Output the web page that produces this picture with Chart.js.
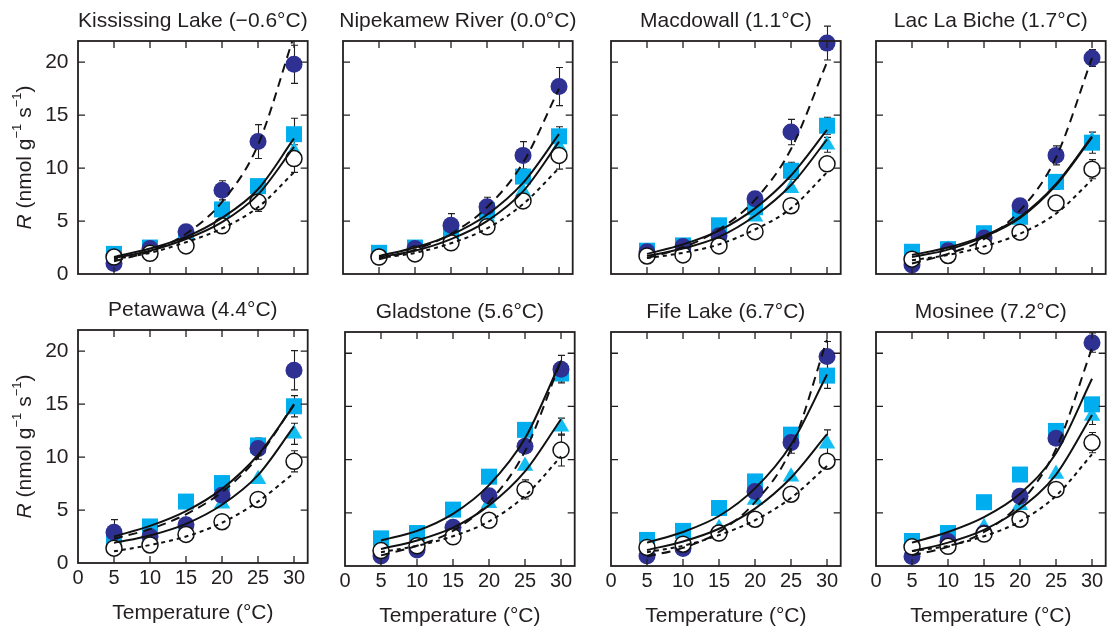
<!DOCTYPE html>
<html><head><meta charset="utf-8">
<script src="https://cdn.jsdelivr.net/npm/chart.js@4.4.0/dist/chart.umd.min.js"></script>
<style>
html,body{margin:0;padding:0;background:#fff;}
#wrap{position:relative;width:1110px;height:629px;overflow:hidden;background:#fff;}
#wrap canvas{position:absolute;}
</style></head><body><div id="wrap"></div>
<script>
// ---------- data ----------
const temps = [5, 10, 15, 20, 25, 30];
const xTicks = [0, 5, 10, 15, 20, 25, 30];
const yTicks = [0, 5, 10, 15, 20];
const siteTitles = [
  "Kississing Lake (\u22120.6\u00B0C)", "Nipekamew River (0.0\u00B0C)", "Macdowall (1.1\u00B0C)", "Lac La Biche (1.7\u00B0C)",
  "Petawawa (4.4\u00B0C)", "Gladstone (5.6\u00B0C)", "Fife Lake (6.7\u00B0C)", "Mosinee (7.2\u00B0C)"
];
const darkR = [
  [1.0, 2.4, 4.0, 7.9, 12.5, 19.8],
  [1.6, 2.4, 4.6, 6.35, 11.2, 17.7],
  [2.1, 2.6, 3.6, 7.1, 13.4, 21.8],
  [0.85, 2.2, 3.4, 6.45, 11.2, 20.4],
  [2.9, 2.5, 3.6, 6.4, 10.8, 18.2],
  [0.95, 1.5, 3.65, 6.6, 11.25, 18.5],
  [0.95, 1.65, 3.1, 7.0, 11.6, 19.7],
  [0.9, 2.3, 3.1, 6.55, 12.0, 21.0]
];
const squareR = [
  [1.9, 2.5, 3.4, 6.1, 8.3, 13.2],
  [2.0, 2.5, 3.8, 6.0, 9.2, 13.0],
  [2.2, 2.7, 4.6, 6.3, 9.75, 14.0],
  [2.1, 2.35, 3.85, 5.4, 8.7, 12.4],
  [2.35, 3.45, 5.8, 7.55, 11.1, 14.8],
  [2.6, 3.1, 5.3, 8.4, 12.8, 18.1],
  [2.45, 3.3, 5.45, 7.95, 12.35, 17.9],
  [2.35, 3.1, 6.0, 8.6, 12.7, 15.2]
];
const triR = [
  [1.7, 2.2, 3.3, 5.0, 7.3, 11.6],
  [1.8, 2.3, 3.4, 5.4, 7.8, 12.0],
  [2.0, 2.4, 3.6, 5.4, 8.1, 12.2],
  [1.9, 2.3, 3.5, 5.3, 8.6, 12.6],
  [2.1, 2.6, 3.6, 5.6, 7.9, 12.2],
  [1.8, 2.4, 3.6, 5.9, 9.4, 13.1],
  [2.0, 2.5, 3.55, 6.2, 8.4, 11.5],
  [2.0, 2.6, 3.65, 5.7, 8.65, 14.1]
];
const openR = [
  [1.6, 1.95, 2.65, 4.55, 6.8, 10.9],
  [1.6, 1.9, 2.95, 4.45, 6.9, 11.2],
  [1.7, 1.8, 2.65, 4.0, 6.45, 10.4],
  [1.4, 1.75, 2.65, 3.95, 6.7, 9.9],
  [1.4, 1.7, 2.7, 3.9, 6.0, 9.6],
  [1.45, 1.9, 2.75, 4.3, 7.2, 10.9],
  [1.75, 2.05, 3.1, 4.4, 6.75, 9.85],
  [1.8, 1.85, 3.0, 4.4, 7.2, 11.6]
];
// fitted curves
const darkFit = [
  [1.2, 2.15, 3.8, 6.8, 12.2, 22.5],
  [1.4, 2.3, 3.8, 6.3, 10.5, 17.5],
  [1.5, 2.5, 4.2, 7.0, 11.8, 20.0],
  [1.0, 1.9, 3.3, 6.0, 11.0, 20.4],
  [2.3, 3.2, 4.6, 6.7, 10.0, 15.0],
  [1.0, 1.9, 3.3, 6.0, 10.8, 19.3],
  [0.9, 1.7, 3.2, 6.0, 11.0, 21.3],
  [1.0, 1.8, 3.2, 5.9, 11.0, 20.5]
];
const squareFit = [
  [1.6, 2.4, 3.5, 5.3, 8.0, 12.8],
  [1.7, 2.5, 3.7, 5.6, 8.6, 13.2],
  [1.9, 2.8, 4.1, 6.2, 9.3, 13.6],
  [1.8, 2.5, 3.6, 5.4, 8.5, 13.0],
  [2.5, 3.5, 4.9, 7.0, 10.2, 14.9],
  [2.4, 3.3, 4.9, 7.6, 12.0, 19.3],
  [2.2, 3.2, 4.7, 7.3, 11.4, 18.0],
  [2.2, 3.2, 4.6, 6.8, 10.6, 17.6]
];
const triFit = [
  [1.5, 2.2, 3.3, 4.9, 7.5, 12.0],
  [1.6, 2.2, 3.3, 5.0, 7.8, 12.5],
  [1.7, 2.4, 3.5, 5.5, 8.4, 12.7],
  [1.6, 2.3, 3.5, 5.3, 8.4, 12.9],
  [1.9, 2.6, 3.7, 5.5, 8.3, 12.9],
  [1.6, 2.4, 3.6, 5.7, 8.9, 13.8],
  [1.5, 2.3, 3.5, 5.4, 8.3, 12.4],
  [1.4, 2.2, 3.4, 5.4, 8.6, 14.2]
];
const openFit = [
  [1.4, 2.0, 3.0, 4.3, 6.3, 9.6],
  [1.5, 2.0, 2.9, 4.3, 6.6, 10.0],
  [1.5, 2.0, 2.8, 4.2, 6.2, 9.6],
  [1.3, 1.8, 2.6, 3.8, 5.7, 8.9],
  [1.1, 1.7, 2.5, 3.8, 5.8, 8.5],
  [1.3, 1.9, 2.8, 4.2, 6.6, 10.3],
  [1.3, 1.9, 2.9, 4.3, 6.4, 9.4],
  [1.4, 1.9, 2.8, 4.2, 6.6, 10.5]
];
// error bars (+/-), 0 = not visible
const darkErr = [
  [0, 0, 0.3, 0.9, 1.6, 1.8],
  [0, 0, 1.1, 0.9, 1.3, 1.8],
  [0, 0, 0, 0.5, 1.2, 1.6],
  [0, 0, 0, 0, 0.9, 0.8],
  [1.2, 0, 0, 0, 1.0, 1.85],
  [0, 0, 0, 0, 0, 1.3],
  [0, 0, 0, 0, 1.0, 1.4],
  [0, 0, 0, 0, 0, 0.9]
];
const squareErr = [
  [0, 0, 0, 0, 0, 1.5],
  [0, 0, 0, 0, 0, 0.9],
  [0, 0, 0, 0, 0.8, 0.8],
  [0, 0, 0, 0, 0.7, 1.0],
  [0, 0, 0, 0, 0, 1.0],
  [0, 0, 0, 0, 0, 0.8],
  [0, 0, 0, 0, 0, 1.2],
  [0, 0, 0, 0, 0, 0]
];
const triErr = [
  [0, 0, 0, 0, 0, 0],
  [0, 0, 0, 0, 0, 0],
  [0, 0, 0, 0, 0, 0.7],
  [0, 0, 0, 0, 0, 0],
  [0, 0, 0, 0, 0, 1.0],
  [0, 0, 0, 0, 0, 0.8],
  [0, 0, 0, 0, 0, 1.3],
  [0, 0, 0, 0, 0, 0.8]
];
const openErr = [
  [0, 0, 0, 0.7, 0.9, 1.3],
  [0, 0, 0, 0, 0, 1.3],
  [0, 0, 0, 0, 0, 0],
  [0, 0, 0, 0, 0, 0.9],
  [0, 0, 0, 0, 0, 1.0],
  [0, 0, 0, 0, 0.9, 1.5],
  [0, 0, 0, 0, 0, 0],
  [0, 0, 0, 0, 0, 0.95]
];

// ---------- layout & style ----------
const FONT = '"Liberation Sans", Arial, Helvetica, sans-serif';
const INK = '#231f20';
const DARK = '#2e3192', SQ = '#00aeef', TRI = '#14bdf2';
const X_MAX = 31.9, Y_MAX = 22;
const PW = 233;
const panelPos = [ // plot-area left, top, height
  [78, 41, 233], [343, 41, 233], [611, 41, 233], [876, 41, 233],
  [78, 330, 233], [345, 332, 234], [611, 332, 234], [876, 332, 234]
];

function pts(vals) { return temps.map((t, i) => ({x: t, y: vals[i]})); }

function makePlugin(i) {
  const leftCol = (i % 4 === 0);
  return {
    id: 'deco' + i,
    beforeDatasetsDraw(chart) {
      const {ctx, scales: {x, y}} = chart;
      ctx.save();
      ctx.strokeStyle = INK; ctx.lineWidth = 1.1;
      [[triR, triErr], [squareR, squareErr], [darkR, darkErr], [openR, openErr]].forEach(([vals, errs]) => {
        temps.forEach((t, k) => {
          const e = errs[i][k]; if (!e) return;
          const px = Math.round(x.getPixelForValue(t)) + 0.5;
          const y1 = y.getPixelForValue(vals[i][k] + e), y2 = y.getPixelForValue(vals[i][k] - e);
          ctx.beginPath();
          ctx.moveTo(px, y1); ctx.lineTo(px, y2);
          ctx.moveTo(px - 3.5, y1); ctx.lineTo(px + 3.5, y1);
          ctx.moveTo(px - 3.5, y2); ctx.lineTo(px + 3.5, y2);
          ctx.stroke();
        });
      });
      ctx.restore();
    },
    afterDraw(chart) {
      const {ctx, chartArea: a, scales: {x, y}} = chart;
      ctx.save();
      // frame
      ctx.strokeStyle = INK; ctx.lineWidth = 1.8;
      ctx.strokeRect(a.left, a.top, a.right - a.left, a.bottom - a.top);
      // inward ticks on all sides
      ctx.lineWidth = 1.3;
      ctx.beginPath();
      xTicks.forEach(v => {
        if (v === 0) return;
        const px = x.getPixelForValue(v);
        ctx.moveTo(px, a.bottom); ctx.lineTo(px, a.bottom - 7);
        ctx.moveTo(px, a.top); ctx.lineTo(px, a.top + 7);
      });
      yTicks.forEach(v => {
        if (v === 0) return;
        const py = y.getPixelForValue(v);
        ctx.moveTo(a.left, py); ctx.lineTo(a.left + 7, py);
        ctx.moveTo(a.right, py); ctx.lineTo(a.right - 7, py);
      });
      ctx.stroke();
      // panel title
      ctx.fillStyle = INK;
      ctx.font = '21px ' + FONT;
      ctx.textAlign = 'center'; ctx.textBaseline = 'alphabetic';
      ctx.fillText(siteTitles[i], (a.left + a.right) / 2, a.top - 14.5);
      // y-axis title with italic R and superscripts
      if (leftCol) {
        const parts = [
          {t: 'R', f: 'italic 21px ' + FONT, dy: 0},
          {t: ' (nmol g', f: '21px ' + FONT, dy: 0},
          {t: '\u22121', f: '13px ' + FONT, dy: -8},
          {t: ' s', f: '21px ' + FONT, dy: 0},
          {t: '\u22121', f: '13px ' + FONT, dy: -8},
          {t: ')', f: '21px ' + FONT, dy: 0}
        ];
        let total = 0;
        parts.forEach(p => { ctx.font = p.f; p.w = ctx.measureText(p.t).width; total += p.w; });
        ctx.translate(25, (a.top + a.bottom) / 2);
        ctx.rotate(-Math.PI / 2);
        ctx.textAlign = 'left'; ctx.textBaseline = 'middle';
        let cx = -total / 2;
        parts.forEach(p => { ctx.font = p.f; ctx.fillText(p.t, cx, p.dy); cx += p.w; });
      }
      ctx.restore();
    }
  };
}

const wrap = document.getElementById('wrap');
panelPos.forEach((pp, i) => {
  const [L, T, H] = pp;
  const leftCol = (i % 4 === 0), bottomRow = i >= 4;
  const mL = leftCol ? L : 12, mT = 38, mR = 8, mB = bottomRow ? 61 : 24;
  const cv = document.createElement('canvas');
  cv.width = mL + PW + mR; cv.height = mT + H + mB;
  cv.style.left = (L - mL) + 'px'; cv.style.top = (T - mT) + 'px';
  wrap.appendChild(cv);
  new Chart(cv, {
    type: 'scatter',
    data: {
      datasets: [
        {data: pts(squareFit[i]), showLine: true, pointRadius: 0, borderColor: '#111', borderWidth: 2, cubicInterpolationMode: 'monotone', order: 0},
        {data: pts(triFit[i]), showLine: true, pointRadius: 0, borderColor: '#111', borderWidth: 2, cubicInterpolationMode: 'monotone', order: 0},
        {data: pts(darkFit[i]), showLine: true, pointRadius: 0, borderColor: '#111', borderWidth: 2, borderDash: [9, 6], cubicInterpolationMode: 'monotone', order: 0},
        {data: pts(openFit[i]), showLine: true, pointRadius: 0, borderColor: '#111', borderWidth: 2, borderDash: [4, 4], cubicInterpolationMode: 'monotone', order: 0},
        {data: pts(openR[i]), pointStyle: 'circle', pointRadius: 8, pointBackgroundColor: '#fff', pointBorderColor: '#111', pointBorderWidth: 1.5, order: 1, clip: false},
        {data: pts(darkR[i]), pointStyle: 'circle', pointRadius: 8.5, pointBackgroundColor: DARK, pointBorderColor: DARK, pointBorderWidth: 0, order: 2, clip: false},
        {data: pts(squareR[i]), pointStyle: 'rect', pointRadius: 11.3, pointBackgroundColor: SQ, pointBorderColor: SQ, pointBorderWidth: 0, order: 3, clip: false},
        {data: pts(triR[i]), pointStyle: 'triangle', pointRadius: 9.5, pointBackgroundColor: TRI, pointBorderColor: TRI, pointBorderWidth: 0, order: 4, clip: false}
      ]
    },
    options: {
      responsive: false, animation: false, devicePixelRatio: 1,
      layout: {padding: {top: mT, right: mR, left: 0, bottom: 0}},
      plugins: {legend: {display: false}, tooltip: {enabled: false}, title: {display: false}},
      scales: {
        x: {
          type: 'linear', min: 0, max: X_MAX, position: 'bottom',
          afterBuildTicks: s => { s.ticks = xTicks.map(v => ({value: v})); },
          afterFit: s => { s.height = mB; },
          grid: {display: false, drawTicks: false, tickLength: 0}, border: {display: false},
          ticks: {display: bottomRow, padding: 5, color: INK, font: {family: FONT, size: 20, lineHeight: 1}, maxRotation: 0, autoSkip: false},
          title: {display: bottomRow, text: 'Temperature (\u00B0C)', color: INK, font: {family: FONT, size: 21, lineHeight: 1}, padding: 0}
        },
        y: {
          type: 'linear', min: 0, max: Y_MAX, position: 'left',
          afterBuildTicks: s => { s.ticks = yTicks.map(v => ({value: v})); },
          afterFit: s => { s.width = mL; },
          grid: {display: false, drawTicks: false, tickLength: 0}, border: {display: false},
          ticks: {display: leftCol, padding: 9.5, color: INK, font: {family: FONT, size: 21, lineHeight: 1}, autoSkip: false}
        }
      }
    },
    plugins: [makePlugin(i)]
  });
});
</script></body></html>
